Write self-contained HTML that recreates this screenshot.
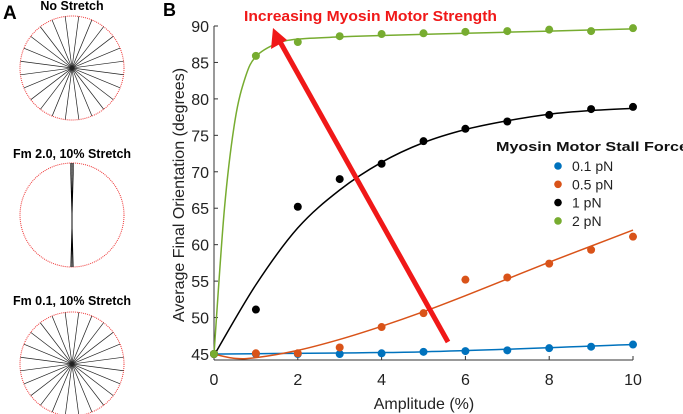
<!DOCTYPE html>
<html><head><meta charset="utf-8"><style>
body{margin:0;background:#fff;}
svg{display:block;font-family:"Liberation Sans",sans-serif;}
</style></head><body>
<svg id="c" width="683" height="414"></svg>
<script>
const xTicks=[0,2,4,6,8,10];
const yTicks=[45,50,55,60,65,70,75,80,85,90];
const amps=[0,1,2,3,4,5,6,7,8,9,10];
const s01=[45,45,45,45,45.1,45.3,45.4,45.5,45.8,46.0,46.3];
const s05=[45,45.1,45.1,45.9,48.7,50.6,55.2,55.5,57.4,59.3,61.1];
const s1=[45,51.1,65.2,69.0,71.1,74.2,75.9,76.9,77.8,78.6,78.9];
const s2=[45,85.9,87.8,88.6,88.9,89.0,89.2,89.3,89.5,89.3,89.7];
const fit01x=[0,5,10], fit01y=[45,45.3,46.3];
const fit05x=[0,0.5,1,2,3,4,5,6,7,8,9,10], fit05y=[45,44.4,44.5,45.5,47,48.8,50.8,53,55.3,57.6,59.8,62];
const fit1x=[0,1,2,3,4,5,6,7,8,9,10], fit1y=[44.8,54.5,62.3,67.5,71.3,74.0,75.8,77.0,77.9,78.4,78.7];
const fit2x=[0,0.25,0.5,0.75,1,1.5,2,3,4,6,8,10], fit2y=[45,65,77,83,85.8,87.6,88.2,88.5,88.7,89.0,89.3,89.6];
const labels=["0.1 pN","0.5 pN","1 pN","2 pN"];
const colors=["#0072bd","#d95319","#000000","#77ac30"];
const NS="http://www.w3.org/2000/svg";
const svg=document.getElementById('c');
function mk(t,a,p){const e=document.createElementNS(NS,t);for(const k in a)e.setAttribute(k,a[k]);(p||svg).appendChild(e);return e;}
const X=v=>214+v*(633-214)/10;
const Y=v=>26+(90-v)*(354-26)/45;
// Panel A
let t=mk('text',{x:3,y:19,'font-size':19,'font-weight':'bold'});t.textContent='A';

const circ=[[72,68,'No Stretch',10,0],[72,215,'Fm 2.0, 10% Stretch',158,1],[72,364,'Fm 0.1, 10% Stretch',305,0]];
circ.forEach((c,i)=>{
 const g=mk('g',{});
 
 
 const tt=mk('text',{x:c[0],y:c[3],'text-anchor':'middle','font-size':12.5,'font-weight':'bold'},g);tt.textContent=c[2];
 mk('circle',{cx:c[0],cy:c[1],r:52,fill:'none',stroke:'#e33','stroke-width':1,'stroke-dasharray':'1 1'},g);
 if(c[4]){
  [-1.6,-0.6,0.6,1.6].forEach(d=>mk('line',{x1:c[0]+d,y1:c[1]-52,x2:c[0]-d*0.8,y2:c[1]+52,stroke:'#000','stroke-width':0.6},g));
 } else {
  for(let k=0;k<12;k++){const a=k*Math.PI/12+0.13;const dx=52*Math.cos(a),dy=52*Math.sin(a);
   mk('line',{x1:c[0]-dx,y1:c[1]-dy,x2:c[0]+dx,y2:c[1]+dy,stroke:'#222','stroke-width':0.7},g);}
 }
});
// Panel B
t=mk('text',{x:163,y:16,'font-size':18,'font-weight':'bold'});t.textContent='B';

const ax=mk('g',{});
mk('line',{x1:214,y1:26,x2:214,y2:360,stroke:'#333','stroke-width':1},ax);
mk('line',{x1:214,y1:360,x2:633,y2:360,stroke:'#333','stroke-width':1},ax);
yTicks.forEach(v=>{mk('line',{x1:214,y1:Y(v),x2:218,y2:Y(v),stroke:'#333'},ax);
 const e=mk('text',{x:209,y:Y(v)+6,'text-anchor':'end','font-size':16,fill:'#222'},ax);e.textContent=v;});
xTicks.forEach(v=>{mk('line',{x1:X(v),y1:360,x2:X(v),y2:356,stroke:'#333'},ax);
 const e=mk('text',{x:X(v),y:385,'text-anchor':'middle','font-size':16,fill:'#222'},ax);e.textContent=v;});
t=mk('text',{x:424,y:409,'text-anchor':'middle','font-size':16,fill:'#222'});t.textContent='Amplitude (%)';

t=mk('text',{x:0,y:0,'text-anchor':'middle','font-size':16,fill:'#222',transform:'translate(184,195) rotate(-90)'});t.textContent='Average Final Orientation (degrees)';

function path(xs,ys){const p=xs.map((x,i)=>[X(x),Y(ys[i])]);let d='M'+p[0][0]+','+p[0][1];
 for(let i=0;i<p.length-1;i++){const p0=p[Math.max(i-1,0)],p1=p[i],p2=p[i+1],p3=p[Math.min(i+2,p.length-1)];
  d+=' C'+(p1[0]+(p2[0]-p0[0])/6)+','+(p1[1]+(p2[1]-p0[1])/6)+' '+(p2[0]-(p3[0]-p1[0])/6)+','+(p2[1]-(p3[1]-p1[1])/6)+' '+p2[0]+','+p2[1];}
 return d;}
const fits=[[fit01x,fit01y],[fit05x,fit05y],[fit1x,fit1y],[fit2x,fit2y]];
const series=[s01,s05,s1,s2];
series.forEach((s,i)=>{
 const g=mk('g',{});
 const l=mk('path',{d:path(fits[i][0],fits[i][1]),fill:'none',stroke:colors[i],'stroke-width':1.5},g);
 
 s.forEach((v,j)=>{const c=mk('circle',{cx:X(amps[j]),cy:Y(v),r:4,fill:colors[i]},g);
  });
});
// arrow
const ar=mk('g',{});
mk('line',{x1:448,y1:342,x2:279,y2:40,stroke:'#f01818','stroke-width':5},ar);
mk('polygon',{points:'273,28 271,49 287,40',fill:'#f01818'},ar);
t=mk('text',{x:244,y:21,'font-size':15,'font-weight':'bold',fill:'#f01818',textLength:253,lengthAdjust:'spacingAndGlyphs'});t.textContent='Increasing Myosin Motor Strength';

// legend
const lg=mk('g',{});
const lt=mk('text',{x:496,y:151,'font-size':13,'font-weight':'bold',fill:'#111',textLength:192,lengthAdjust:'spacingAndGlyphs'},lg);lt.textContent='Myosin Motor Stall Force';
labels.forEach((lab,i)=>{const y=166+i*18.3;
 const e=mk('g',{},lg);
 mk('circle',{cx:558,cy:y,r:3.8,fill:colors[i]},e);
 const tx=mk('text',{x:572,y:y+5,'font-size':14,fill:'#222'},e);tx.textContent=lab;});
</script>
</body></html>
